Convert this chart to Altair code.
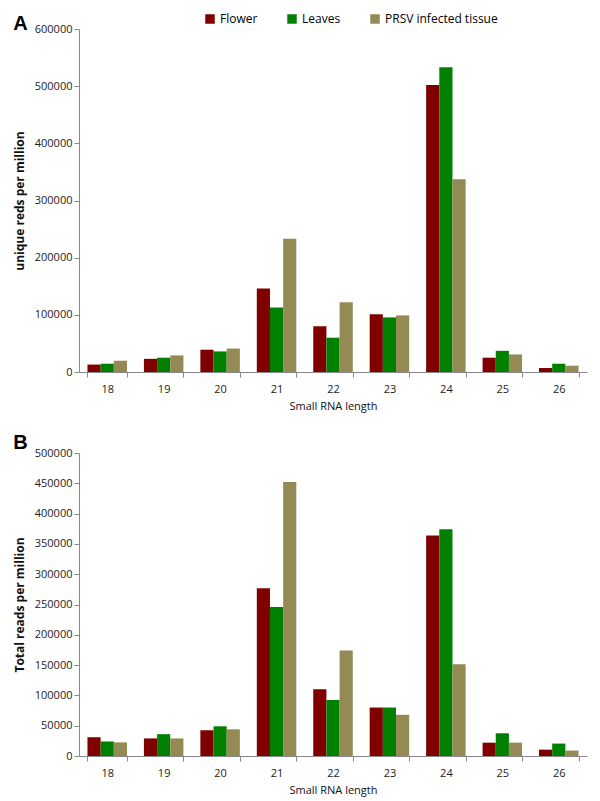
import altair as alt
import pandas as pd

lengths = ["18", "19", "20", "21", "22", "23", "24", "25", "26"]
series = ["Flower", "Leaves", "PRSV infected tissue"]
colors = ["#800000", "#008000", "#948A54"]

# Panel A: unique reads per million
a_flower = [13000, 23000, 39000, 146000, 80000, 101000, 502000, 25000, 7000]
a_leaves = [14500, 25000, 36000, 113000, 60000, 95500, 533000, 37000, 14500]
a_prsv = [19700, 29000, 41000, 233000, 122000, 99000, 337000, 30700, 11000]

# Panel B: total reads per million
b_flower = [31000, 29000, 42500, 277000, 110000, 80000, 364000, 22000, 10500]
b_leaves = [24000, 36000, 49000, 246000, 92500, 80000, 374000, 37500, 20500]
b_prsv = [22500, 29000, 44000, 452000, 174000, 68000, 151500, 22000, 9000]


def long_df(vals):
    rows = []
    for s, v in zip(series, vals):
        for L, y in zip(lengths, v):
            rows.append({"len": L, "series": s, "value": y})
    return pd.DataFrame(rows)


dfa = long_df([a_flower, a_leaves, a_prsv])
dfb = long_df([b_flower, b_leaves, b_prsv])

FONT = "Open Sans"


def panel(df, letter, ytitle, ymax, step, height, show_legend, toff):
    color = alt.Color(
        "series:N",
        scale=alt.Scale(domain=series, range=colors),
        legend=alt.Legend(
            title=None, orient="none", direction="horizontal",
            legendX=125, legendY=-16, symbolType="square", symbolSize=90,
            labelFont=FONT, labelFontSize=12, columnPadding=28,
            symbolStrokeWidth=0,
        ) if show_legend else None,
    )
    return alt.Chart(df).mark_bar().encode(
        x=alt.X("len:N", sort=lengths,
                scale=alt.Scale(paddingInner=0.3, paddingOuter=0.15),
                axis=alt.Axis(title="Small RNA length", labelAngle=0,
                              tickBand="extent", labelPadding=6,
                              titlePadding=6)),
        xOffset=alt.XOffset("series:N", sort=series),
        y=alt.Y("value:Q",
                scale=alt.Scale(domain=[0, ymax], nice=False),
                axis=alt.Axis(title=ytitle, grid=False, format="d",
                              values=list(range(0, ymax + 1, step)),
                              titleFontWeight="bold", titleFontSize=12,
                              titlePadding=8)),
        color=color,
    ).properties(
        width=508, height=height,
        title=alt.TitleParams(letter, anchor="start", fontSize=20,
                              fontWeight="bold", font="Liberation Sans",
                              offset=toff),
    )


top = panel(dfa, "A", "unique reds per million", 600000, 100000, 343, True, -11)
bottom = panel(dfb, "B", "Total reads per million", 500000, 50000, 303, False, -6)

chart = alt.vconcat(top, bottom, spacing=22).configure_axis(
    labelFont=FONT, titleFont=FONT, labelFontSize=11, titleFontSize=11,
    labelColor="#222", titleColor="#111",
    domainColor="#888", tickColor="#888", tickSize=5,
).configure_view(stroke=None).configure_axisX(titleFontWeight="normal")

chart.save("out.html", embed_options={"renderer": "svg", "actions": False})
